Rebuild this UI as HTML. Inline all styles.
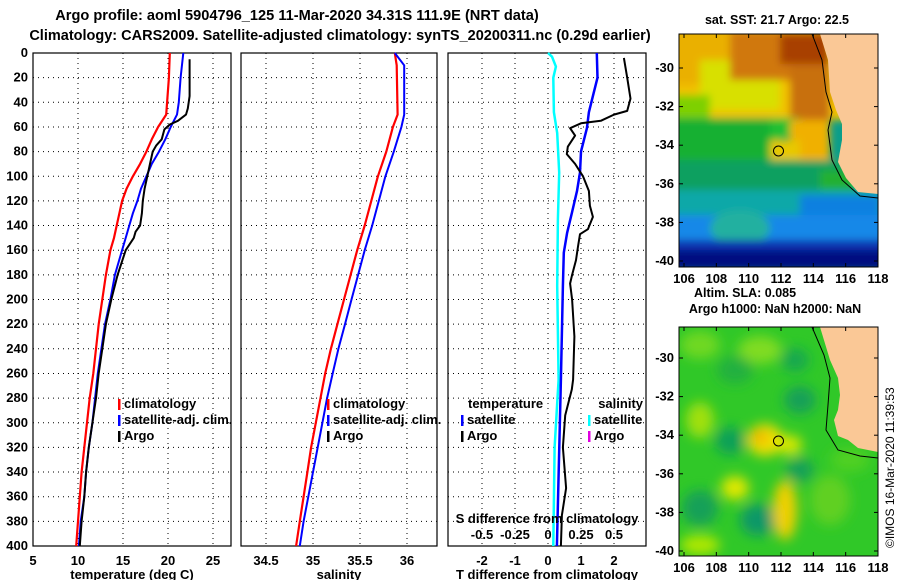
<!DOCTYPE html>
<html><head><meta charset="utf-8">
<style>
html,body{margin:0;padding:0;background:#fff;}
svg{display:block;font-family:"Liberation Sans",Arial,sans-serif;font-weight:bold;}
</style></head>
<body>
<svg id="fig" width="900" height="580" viewBox="0 0 900 580" xmlns="http://www.w3.org/2000/svg">
<defs>
<filter id="blur6" x="-20%" y="-20%" width="140%" height="140%"><feGaussianBlur stdDeviation="6"/></filter>
<filter id="blur4" x="-20%" y="-20%" width="140%" height="140%"><feGaussianBlur stdDeviation="4"/></filter>
<clipPath id="clipTop"><rect x="679" y="34" width="199" height="233"/></clipPath>
<clipPath id="clipBot"><rect x="679" y="327" width="199" height="229"/></clipPath>
</defs>
<text x="297" y="20" text-anchor="middle" font-size="14.6">Argo profile: aoml 5904796_125 11-Mar-2020 34.31S 111.9E (NRT data)</text>
<text x="340" y="40" text-anchor="middle" font-size="14.5">Climatology: CARS2009. Satellite-adjusted climatology: synTS_20200311.nc (0.29d earlier)</text>

<!-- top map: SST -->
<text x="777" y="24" text-anchor="middle" font-size="12.5">sat. SST: 21.7 Argo: 22.5</text>
<g clip-path="url(#clipTop)">
  <rect x="679" y="34" width="199" height="233" fill="#0a9e8a"/>
  <g filter="url(#blur4)">
    <rect x="670" y="25" width="220" height="95" fill="#f2c200"/>
    <rect x="670" y="25" width="60" height="60" fill="#eab000"/>
    <rect x="700" y="60" width="80" height="50" fill="#d8e000"/>
    <rect x="670" y="95" width="40" height="30" fill="#7ed000"/>
    <rect x="730" y="30" width="100" height="50" fill="#d07810"/>
    <rect x="790" y="60" width="40" height="60" fill="#c87010"/>
    <rect x="780" y="34" width="50" height="30" fill="#a84000"/>
    <rect x="670" y="118" width="110" height="45" fill="#14b030"/>
    <rect x="770" y="118" width="30" height="20" fill="#20c030"/>
    <rect x="790" y="120" width="40" height="45" fill="#f0b000"/>
    <rect x="770" y="140" width="30" height="30" fill="#e8c800"/>
    <rect x="800" y="160" width="40" height="25" fill="#c0e000"/>
    <rect x="670" y="160" width="220" height="30" fill="#10a060"/>
    <rect x="820" y="170" width="70" height="30" fill="#20b030"/>
    <rect x="670" y="190" width="220" height="28" fill="#10a8a8"/>
    <rect x="800" y="195" width="80" height="30" fill="#1080e0"/>
    <rect x="670" y="215" width="220" height="25" fill="#1888e8"/>
    <ellipse cx="740" cy="228" rx="30" ry="18" fill="#20b0a0"/>
    <rect x="670" y="240" width="220" height="12" fill="#0830b0"/>
    <rect x="670" y="250" width="220" height="20" fill="#000c80"/>
  </g>
  <path d="M820 34 L878 34 L878 194 L858 192 L846 178 L838 162 L842 140 L842 124 L836 110 L830 92 L828 60 Z" fill="#fac896"/>
  <path d="M812 34 L822 60 L826 92 L832 112 L828 130 L832 160 L842 180 L860 196 L878 198" fill="none" stroke="#000" stroke-width="1"/>
  <circle cx="778.5" cy="151" r="5" fill="none" stroke="#000" stroke-width="1"/>
</g>
<rect x="679" y="34" width="199" height="233" fill="none" stroke="#000"/>
<g id="topMapAxes" font-size="13"></g>
<text x="745" y="297" text-anchor="middle" font-size="12.5">Altim. SLA: 0.085</text>
<text x="775" y="313" text-anchor="middle" font-size="12.5">Argo h1000: NaN h2000: NaN</text>

<!-- bottom map: SLA -->
<g clip-path="url(#clipBot)">
  <rect x="679" y="327" width="199" height="229" fill="#30c828"/>
  <g filter="url(#blur6)">
    <ellipse cx="700" cy="345" rx="20" ry="14" fill="#70d820"/>
    <ellipse cx="760" cy="350" rx="22" ry="14" fill="#80dc20"/>
    <ellipse cx="795" cy="360" rx="14" ry="12" fill="#18a850"/>
    <ellipse cx="735" cy="370" rx="18" ry="14" fill="#20b040"/>
    <ellipse cx="800" cy="400" rx="16" ry="14" fill="#14a058"/>
    <ellipse cx="765" cy="440" rx="18" ry="16" fill="#f0e000"/>
    <ellipse cx="760" cy="437" rx="8" ry="7" fill="#f0b000"/>
    <ellipse cx="790" cy="445" rx="12" ry="10" fill="#d8e800"/>
    <ellipse cx="730" cy="441" rx="15" ry="14" fill="#10a058"/>
    <ellipse cx="700" cy="420" rx="14" ry="18" fill="#a0e010"/>
    <ellipse cx="800" cy="470" rx="14" ry="12" fill="#14a058"/>
    <ellipse cx="735" cy="488" rx="14" ry="12" fill="#e0e800"/>
    <ellipse cx="700" cy="508" rx="18" ry="18" fill="#18a058"/>
    <ellipse cx="758" cy="520" rx="18" ry="16" fill="#0e9868"/>
    <ellipse cx="785" cy="510" rx="12" ry="30" fill="#f0d000"/>
    <ellipse cx="700" cy="545" rx="20" ry="10" fill="#b0e800"/>
    <ellipse cx="830" cy="500" rx="20" ry="25" fill="#60d020"/>
    <ellipse cx="850" cy="460" rx="20" ry="12" fill="#50d020"/>
  </g>
  <path d="M820 327 L878 327 L878 452 L858 448 L848 440 L838 436 L834 420 L838 410 L840 395 L838 378 L830 360 Z" fill="#fac896"/>
  <path d="M812 327 L824 355 L830 378 L828 405 L826 430 L838 450 L860 456 L878 458" fill="none" stroke="#000" stroke-width="1"/>
  <circle cx="778.5" cy="441" r="5" fill="none" stroke="#000" stroke-width="1"/>
</g>
<rect x="679" y="327" width="199" height="229" fill="none" stroke="#000"/>
<g id="botMapAxes" font-size="13"></g>
<text transform="translate(894,548) rotate(-90)" font-size="12" font-weight="normal">©IMOS 16-Mar-2020 11:39:53</text>

<g id="plots"></g>
</svg>
<script>
// ---------- data ----------
const depthTicks = [0,20,40,60,80,100,120,140,160,180,200,220,240,260,280,300,320,340,360,380,400];
const tempTicks = [5,10,15,20,25];
const salTicks = [34.5,35,35.5,36];
const salTickLabels = ["34.5","35","35.5","36"];
const tdiffTicks = [-2,-1,0,1,2];
const sdiffTicks = [-0.5,-0.25,0,0.25,0.5];
const sdiffTickLabels = ["-0.5","-0.25","0","0.25","0.5"];

const climDepth = [0,20,40,50,60,70,80,90,100,110,120,130,140,150,160,180,200,220,240,260,280,300,320,340,360,380,400];
const climTemp  = [20.2,20.1,19.9,19.8,18.9,18.2,17.6,16.9,16.1,15.4,14.9,14.6,14.3,14.0,13.6,13.1,12.7,12.3,12.0,11.7,11.3,11.0,10.7,10.4,10.2,10.0,9.8];
const satTemp   = [21.7,21.4,21.2,21.0,20.3,19.7,19.0,18.2,17.6,17.0,16.6,16.1,15.7,15.3,14.9,14.1,13.6,13.0,12.6,12.2,11.9,11.6,11.2,10.9,10.7,10.3,10.1];
const argoDepth = [5,35,45,50,55,58,62,70,75,80,90,100,110,120,130,140,145,150,160,180,200,220,240,260,280,300,320,340,360,380,400];
const argoTemp  = [22.4,22.4,22.2,22.0,21.1,20.2,19.6,19.3,18.7,18.3,18.0,17.7,17.4,17.2,17.1,16.9,16.4,16.2,15.3,14.4,13.7,13.1,12.7,12.3,12.0,11.6,11.2,10.9,10.7,10.4,10.2];

const salDepth = [0,10,50,60,80,100,120,140,160,180,200,220,240,260,280,300,320,340,360,380,400];
const climSal  = [35.87,35.89,35.90,35.85,35.78,35.69,35.62,35.55,35.47,35.40,35.33,35.26,35.19,35.13,35.08,35.03,34.98,34.94,34.90,34.86,34.82];
const satSal   = [35.87,35.97,35.97,35.94,35.86,35.77,35.70,35.63,35.55,35.48,35.41,35.34,35.27,35.21,35.15,35.10,35.05,35.00,34.95,34.90,34.86];

const diffArgoDepth = [4,20,37,47,50,55,57,61,67,76,82,90,100,112,124,133,143,147,157,168,180,187,200,230,265,273,294,320,353,375,400];
const diffArgoT     = [2.3,2.4,2.5,2.4,2.0,1.6,1.0,0.67,0.82,0.6,0.57,0.82,1.06,1.24,1.27,1.36,1.21,0.97,0.91,0.85,0.73,0.67,0.73,0.8,0.76,0.72,0.52,0.45,0.55,0.42,0.39];
const diffSatDepth  = [0,20,35,48,61,80,97,112,129,146,162,189,265,400];
const diffSatT      = [1.48,1.5,1.36,1.24,1.18,1.0,0.97,0.88,0.73,0.58,0.48,0.45,0.39,0.27];
const diffSalDepth  = [0,3,11,20,48,65,97,135,189,265,320,400];
const diffSatS      = [0,0.03,0.06,0.04,0.045,0.07,0.085,0.075,0.07,0.08,0.05,0.04];

const mapLonTicks = [106,108,110,112,114,116,118];
const mapLatTicks = [-30,-32,-34,-36,-38,-40];

// ---------- helpers ----------
const NS="http://www.w3.org/2000/svg";
const root=document.getElementById('plots');
function el(tag,attrs,parent){const e=document.createElementNS(NS,tag);for(const k in attrs)e.setAttribute(k,attrs[k]);(parent||root).appendChild(e);return e;}
function txt(s,attrs,parent){const e=el('text',attrs,parent);e.textContent=s;return e;}

const Y0=53,Y1=546;
const yD=d=>Y0+(d/400)*(Y1-Y0);
const FS=13;

function panel(name,x0,x1,xs,ticks,labels,title){
  const g=el('g',{});
  
  
  depthTicks.forEach(d=>{
    const l=el('line',{x1:x0,x2:x1,y1:yD(d),y2:yD(d),stroke:'#000','stroke-dasharray':'1 4','stroke-width':1},g);
    
    
  });
  ticks.forEach((t,i)=>{
    const x=xs(t);
    const l=el('line',{x1:x,x2:x,y1:Y0,y2:Y1,stroke:'#000','stroke-dasharray':'1 4','stroke-width':1},g);
    
    
    const tl=txt(labels[i],{x:x,y:565,'text-anchor':'middle','font-size':FS},g);
    
    
  });
  const fr=el('rect',{x:x0,y:Y0,width:x1-x0,height:Y1-Y0,fill:'none',stroke:'#000','stroke-width':1.2},g);
  
  
  const at=txt(title,{x:(x0+x1)/2,y:579,'text-anchor':'middle','font-size':FS},g);
  
  
  return g;
}
function series(g,name,depths,vals,xs,color,w){
  const pts=depths.map((d,i)=>xs(vals[i]).toFixed(1)+','+yD(d).toFixed(1)).join(' ');
  const p=el('polyline',{points:pts,fill:'none',stroke:color,'stroke-width':w,'stroke-linejoin':'round'},g);
  
  
}
function legend(g,x,y,color,label,anchorEnd){
  if(color){const t=el('rect',{x:x,y:y-9,width:2.5,height:11,fill:color},g);
    
    }
  const a={x:color?x+6:x,y:y,'font-size':FS};
  if(anchorEnd)a['text-anchor']='end';
  const l=txt(label,a,g);
  
  
}

// y-axis labels
depthTicks.forEach(d=>{
  const t=txt(String(d),{x:28,y:yD(d)+4,'text-anchor':'end','font-size':FS});
  
  
});

// panel 1 temperature
const xT=t=>33+(t-5)*9;
const g1=panel('temperature-panel',33,231,xT,tempTicks,tempTicks.map(String),'temperature (deg C)');
series(g1,'climatology-temperature-line',climDepth,climTemp,xT,'#f00',2.2);
series(g1,'satellite-temperature-line',climDepth,satTemp,xT,'#00f',2);
series(g1,'argo-temperature-line',argoDepth,argoTemp,xT,'#000',2);
legend(g1,118,408,'#f00','climatology');
legend(g1,118,424,'#00f','satellite-adj. clim.');
legend(g1,118,440,'#000','Argo');

// panel 2 salinity
const xS=s=>313+(s-35)*94;
const g2=panel('salinity-panel',241,437,xS,salTicks,salTickLabels,'salinity');
series(g2,'climatology-salinity-line',salDepth,climSal,xS,'#f00',2.2);
series(g2,'satellite-salinity-line',salDepth,satSal,xS,'#00f',2);
legend(g2,327,408,'#f00','climatology');
legend(g2,327,424,'#00f','satellite-adj. clim.');
legend(g2,327,440,'#000','Argo');

// panel 3 differences
const xD=d=>548+d*33;
const xSD=s=>548+s*132;
const g3=panel('difference-panel',448,646,xD,tdiffTicks,tdiffTicks.map(String),'T difference from climatology');
series(g3,'salinity-diff-satellite-line',diffSalDepth,diffSatS,xSD,'#00ffff',2.5);
series(g3,'temperature-diff-satellite-line',diffSatDepth,diffSatT,xD,'#00f',2.5);
series(g3,'temperature-diff-argo-line',diffArgoDepth,diffArgoT,xD,'#000',2);
legend(g3,468,408,null,'temperature');
legend(g3,461,424,'#00f','satellite');
legend(g3,461,440,'#000','Argo');
legend(g3,643,408,null,'salinity',true);
legend(g3,588,424,'#00ffff','satellite');
legend(g3,588,440,'#e000e0','Argo');
const st=txt('S difference from climatology',{x:547,y:523,'text-anchor':'middle','font-size':FS},g3);


sdiffTicks.forEach((s,i)=>{
  const t=txt(sdiffTickLabels[i],{x:xSD(s),y:539,'text-anchor':'middle','font-size':FS},g3);
  
  
});

// map axes
function mapAxes(id,top,bottom,latY){
  const g=document.getElementById(id);
  
  
  const lx=l=>684+(l-106)*(194/12);
  mapLonTicks.forEach(l=>{
    el('line',{x1:lx(l),x2:lx(l),y1:bottom,y2:bottom-4,stroke:'#000'},g);
    el('line',{x1:lx(l),x2:lx(l),y1:top,y2:top+4,stroke:'#000'},g);
    const t=txt(String(l),{x:lx(l),y:bottom+16,'text-anchor':'middle','font-size':FS},g);
    
    
  });
  mapLatTicks.forEach(la=>{
    const y=latY(la);
    el('line',{x1:679,x2:683,y1:y,y2:y,stroke:'#000'},g);
    el('line',{x1:874,x2:878,y1:y,y2:y,stroke:'#000'},g);
    const t=txt(String(la),{x:674,y:y+4,'text-anchor':'end','font-size':FS},g);
    
    
  });
}
mapAxes('topMapAxes',34,267,la=>68+(-30-la)*19.3);
mapAxes('botMapAxes',327,556,la=>358+(-30-la)*19.3);
</script>
</body></html>
